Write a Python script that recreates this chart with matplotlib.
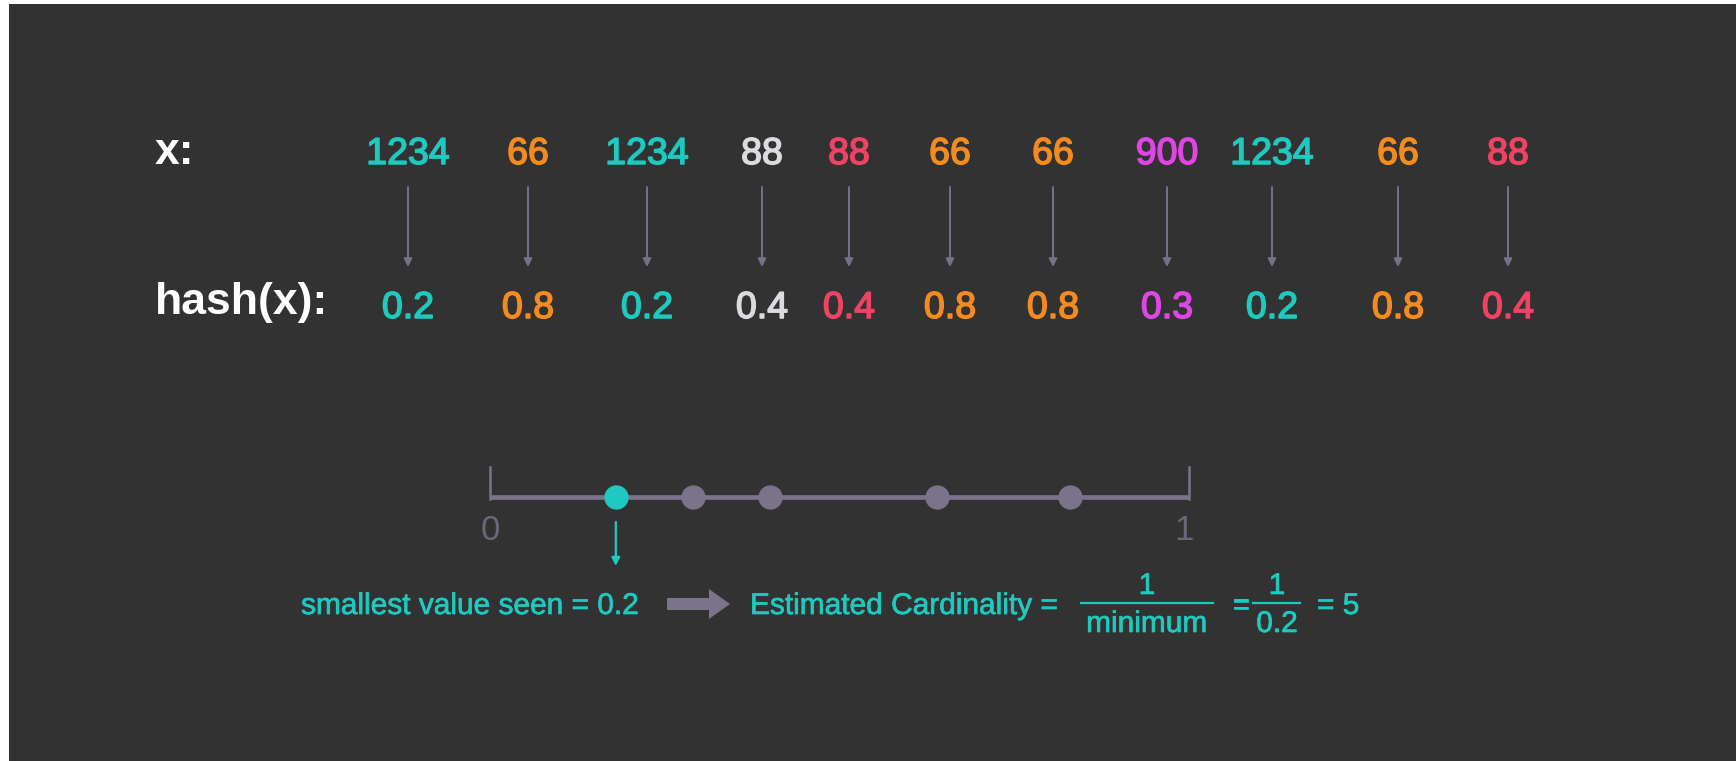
import matplotlib
matplotlib.use("Agg")
import matplotlib.pyplot as plt
import matplotlib.patheffects as pe
from matplotlib.patches import FancyArrow, Rectangle

# ---------------- data ----------------
x_values = ["1234", "66", "1234", "88", "88", "66", "66", "900", "1234", "66", "88"]
hash_values = [0.2, 0.8, 0.2, 0.4, 0.4, 0.8, 0.8, 0.3, 0.2, 0.8, 0.4]
item_colors = ["#1ec9bf", "#f48b1f", "#1ec9bf", "#dcdbe0", "#ef4363", "#f48b1f",
               "#f48b1f", "#e046e6", "#1ec9bf", "#f48b1f", "#ef4363"]
item_x = [408, 528, 647, 762, 849, 950, 1053, 1167, 1272, 1398, 1508]   # layout (px)
dot_positions = [0.18, 0.29, 0.40, 0.64, 0.83]
min_value = 0.2
estimate = 5

# ---------------- style ----------------
W, H = 1736, 761
BG = "#323232"
TEAL = "#1ec9bf"
GRAY = "#7b7389"
ARROW_GRAY = "#77708a"
FONT = "Liberation Sans"


def thick(color, lw):
    return [pe.withStroke(linewidth=lw, foreground=color)]


fig = plt.figure(figsize=(W / 100, H / 100), dpi=100, facecolor="white")

# background panel (thin white border at top and left)
ax = fig.add_axes([0, 0, 1, 1])
ax.set_xlim(0, W)
ax.set_ylim(H, 0)
ax.axis("off")
ax.add_patch(Rectangle((9, 4), W - 9, H - 4, facecolor=BG, edgecolor="none", zorder=0))

# row labels
ax.text(155, 164, "x:", color="white", fontsize=32, fontweight="bold",
        family=FONT, ha="left", va="baseline")
ax.text(155, 314, "hash(x):", color="white", fontsize=32, fontweight="bold",
        family=FONT, ha="left", va="baseline")

# items, arrows, hashes
for xv, hv, c, px in zip(x_values, hash_values, item_colors, item_x):
    ax.text(px, 164, xv, color=c, fontsize=27, family=FONT, ha="center", va="baseline",
            path_effects=thick(c, 1.1))
    ax.annotate("", xy=(px, 267), xytext=(px, 187),
                arrowprops=dict(arrowstyle="-|>", color=ARROW_GRAY, lw=1.4,
                                mutation_scale=12, shrinkA=0, shrinkB=0))
    ax.text(px, 318, f"{hv:.1f}", color=c, fontsize=27, family=FONT,
            ha="center", va="baseline", path_effects=thick(c, 1.1))

# ---------------- number line ----------------
x0_px, x1_px = 490, 1189
nb_top, nb_bot = 440, 580
nl = fig.add_axes([x0_px / W, (H - nb_bot) / H, (x1_px - x0_px) / W, (nb_bot - nb_top) / H])
nl.set_xlim(0, 1)
nl.set_ylim(nb_bot, nb_top)   # pixel-like vertical coordinates
nl.axis("off")
nl.patch.set_alpha(0)

line_y = 497
nl.plot([0, 1], [line_y, line_y], color=GRAY, lw=3.4, solid_capstyle="butt", clip_on=False)
nl.plot([0, 0], [line_y + 1.5, 467], color=GRAY, lw=1.8, clip_on=False)
nl.plot([1, 1], [line_y + 1.5, 467], color=GRAY, lw=1.8, clip_on=False)
nl.text(0, 540, "0", color="#6c6677", fontsize=25, family=FONT, ha="center", va="baseline")
nl.text(0.993, 540, "1", color="#6c6677", fontsize=25, family=FONT, ha="center", va="baseline")

dmin = min(dot_positions)
for d in dot_positions:
    nl.plot([d], [line_y], "o", ms=17.5, mec="none",
            color=TEAL if d == dmin else GRAY, clip_on=False, zorder=3)

nl.annotate("", xy=(dmin, 566), xytext=(dmin, 522),
            arrowprops=dict(arrowstyle="-|>", color=TEAL, lw=1.6,
                            mutation_scale=12, shrinkA=0, shrinkB=0),
            annotation_clip=False)

# ---------------- estimate formula ----------------
base = 614
fs = 21.5
tk = thick(TEAL, 0.5)
ax.text(301, base, f"smallest value seen = {min_value}", color=TEAL, fontsize=fs,
        family=FONT, ha="left", va="baseline", path_effects=tk)
ax.add_patch(FancyArrow(667, 604, 63, 0, width=12, head_width=30, head_length=21,
                        length_includes_head=True, color=GRAY, lw=0))
ax.text(750, base, "Estimated Cardinality =", color=TEAL, fontsize=fs,
        family=FONT, ha="left", va="baseline", path_effects=tk)
# fraction 1 / minimum
ax.plot([1081, 1213], [603, 603], color=TEAL, lw=1.6)
ax.text(1147, 594, "1", color=TEAL, fontsize=fs, family=FONT, ha="center", va="baseline",
        path_effects=tk)
ax.text(1147, 632, "minimum", color=TEAL, fontsize=fs, family=FONT, ha="center",
        va="baseline", path_effects=tk)
ax.text(1241, base, "=", color=TEAL, fontsize=fs, family=FONT, ha="center", va="baseline",
        path_effects=tk)
# fraction 1 / 0.2
ax.plot([1253, 1300], [603, 603], color=TEAL, lw=1.6)
ax.text(1277, 594, "1", color=TEAL, fontsize=fs, family=FONT, ha="center", va="baseline",
        path_effects=tk)
ax.text(1277, 632, f"{min_value}", color=TEAL, fontsize=fs, family=FONT, ha="center",
        va="baseline", path_effects=tk)
ax.text(1317, base, f"= {estimate}", color=TEAL, fontsize=fs, family=FONT,
        ha="left", va="baseline", path_effects=tk)

fig.savefig("out.png", dpi=100, facecolor=fig.get_facecolor())
